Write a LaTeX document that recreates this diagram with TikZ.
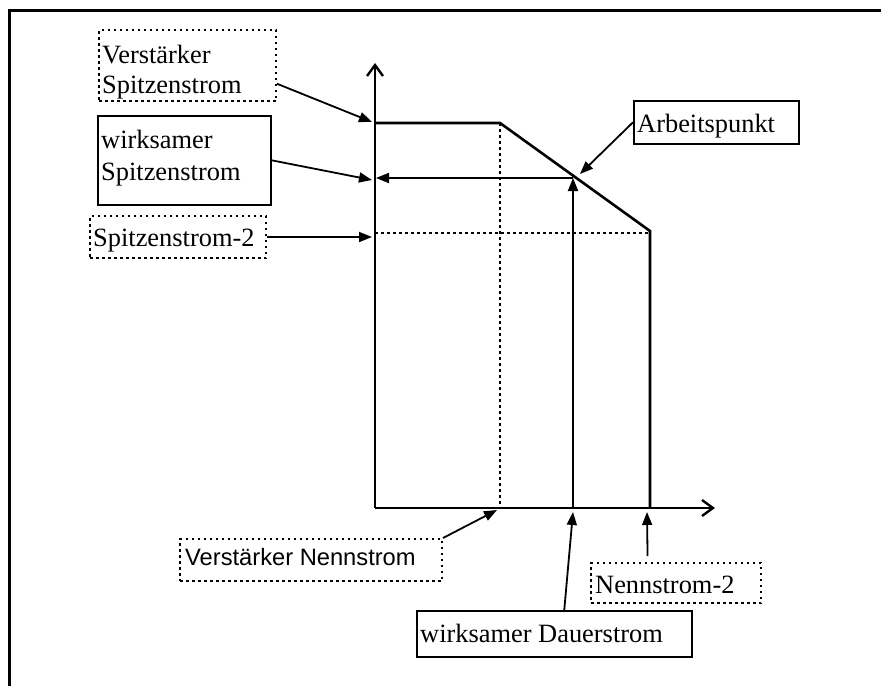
\documentclass[tikz,border=0pt]{standalone}
\usepackage{fontspec}
\setmainfont{Liberation Serif}
\newfontfamily\labelsans{Liberation Sans}
\usetikzlibrary{arrows.meta,calc}
\begin{document}
\begin{tikzpicture}[x=1pt,y=-1pt,
  box/.style={draw, line width=1.6pt, rectangle, inner sep=0pt, anchor=north west},
  dotbox/.style={box, line width=2pt, dash pattern=on 2.5pt off 3.5pt},
  txt/.style={anchor=base west, inner sep=0pt, font=\fontsize{26.4}{30}\selectfont},
  sanstxt/.style={anchor=base west, inner sep=0pt, font=\labelsans\fontsize{23.7}{28}\selectfont},
  axis/.style={line width=2.4pt, -{Straight Barb[length=11pt,width=16pt,line width=2.4pt]}},
  curve/.style={line width=2.6pt},
  guide/.style={line width=2.2pt, dash pattern=on 2.8pt off 3.2pt},
  pointer/.style={line width=1.8pt, -{Triangle[length=13pt,width=10pt]}},
]
\useasboundingbox (0,0) rectangle (881,686);

% open frame: top and left edges only
\draw[line width=3pt] (881,10) -| (9,686);

% key points of the characteristic
\coordinate (O) at (375,508);
\coordinate (ytip) at (375,63);
\coordinate (xtip) at (715,508);
\coordinate (P1) at (375,123);
\coordinate (P2) at (500,123);
\coordinate (P3) at (650,231);
\coordinate (A) at (573,178);
\coordinate (S2) at (375,233);
\coordinate (S2r) at (650,233);
\coordinate (P2b) at (500,508);
\coordinate (P3b) at (650,508);
\coordinate (Ab) at (573,508);
\coordinate (Ay) at (376,178);

% axes
\draw[axis] (O) -- (ytip);
\draw[axis] (O) -- (xtip);

% guide lines
\draw[guide] (P2) -- (P2b);
\draw[guide] (S2) -- (S2r);

% characteristic curve
\draw[curve] (P1) -- (P2) -- (P3) -- (P3b);

% operating point projections
\draw[pointer] (A) -- (Ay);
\draw[pointer] (Ab) -- (A);

% label boxes
\node[dotbox, minimum width=177pt, minimum height=71pt] (vs) at (98,29) {};
\node[txt] (vs1) at (102,63) {Verstärker};
\node[txt] (vs2) at (102,93) {Spitzenstrom};

\node[box, minimum width=173pt, minimum height=89pt] (ws) at (97,115) {};
\node[txt] (ws1) at (101,148) {wirksamer};
\node[txt] (ws2) at (101,180) {Spitzenstrom};

\node[dotbox, minimum width=176pt, minimum height=42pt] (s2) at (89,215) {};
\node[txt] (s2t) at (93,246) {Spitzenstrom-2};

\node[box, minimum width=165pt, minimum height=43pt] (ap) at (633,100) {};
\node[txt] (apt) at (637,132) {Arbeitspunkt};

\node[dotbox, minimum width=262pt, minimum height=42pt] (vn) at (179,538) {};
\node[sanstxt] (vnt) at (185,565) {Verstärker Nennstrom};

\node[dotbox, minimum width=170pt, minimum height=40pt] (n2) at (590,562) {};
\node[txt] (n2t) at (595,593) {Nennstrom-2};

\node[box, minimum width=275pt, minimum height=46pt] (wd) at (416,610) {};
\node[txt] (wdt) at (420,642) {wirksamer Dauerstrom};

% pointer tips
\coordinate (tvs) at (372,122);
\coordinate (tws) at (372,180);
\coordinate (ts2) at (372,237);
\coordinate (tap) at (580,174);
\coordinate (tvn) at (497,510);
\coordinate (tn2) at (647,512);
\coordinate (twd) at (573,512);

% pointers from labels
\draw[pointer] ($(vs.north east)!0.75!(vs.south east)$) -- (tvs);
\draw[pointer] (ws.east) -- (tws);
\draw[pointer] (s2.east) -- (ts2);
\draw[pointer] (ap.west) -- (tap);
\draw[pointer] (vn.north east) -- (tvn);
\draw[pointer, shorten <=6pt] ($(n2.north west)!0.335!(n2.north east)$) -- (tn2);
\draw[pointer] ($(wd.north west)!0.536!(wd.north east)$) -- (twd);
\end{tikzpicture}
\end{document}
